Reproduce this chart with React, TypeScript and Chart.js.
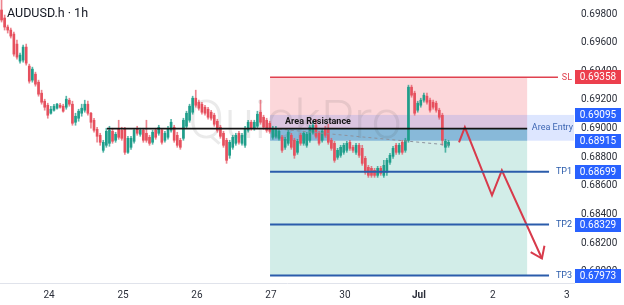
import React, { useEffect, useRef } from 'react';
import { Chart, registerables } from 'chart.js';

Chart.register(...registerables);

const TITLE = 'AUDUSD.h · 1h';
const WATERMARK = 'QuickPro';

// Hourly candles (index = hour slot)
const OPEN = [
  0.69828, 0.69772, 0.69709, 0.69688, 0.69660, 0.69590, 0.69471, 0.69478, 0.69569, 0.69436,
  0.69338, 0.69380, 0.69324, 0.69247, 0.69191, 0.69163, 0.69107, 0.69128, 0.69142, 0.69163,
  0.69156, 0.69149, 0.69198, 0.69170, 0.69044, 0.69072, 0.69107, 0.69128, 0.69170, 0.69107,
  0.69058, 0.68995, 0.68953, 0.68848, 0.68883, 0.68897, 0.68981, 0.68918, 0.68995, 0.68988,
  0.68995, 0.68834, 0.68869, 0.68911, 0.69002, 0.68960, 0.68988, 0.68967, 0.68939, 0.68904,
  0.68988, 0.68967, 0.68988, 0.68918, 0.68939, 0.68988, 0.69009, 0.68953, 0.68918, 0.68932,
  0.69016, 0.69058, 0.69114, 0.69212, 0.69184, 0.69170, 0.69149, 0.69135, 0.69114, 0.69093,
  0.69051, 0.69009, 0.68967, 0.68918, 0.68813, 0.68869, 0.68897, 0.68967, 0.68897, 0.68883,
  0.68988, 0.69044, 0.69002, 0.69016, 0.69114, 0.69079, 0.69058, 0.69037, 0.68939, 0.68946,
  0.68932, 0.68939, 0.68869, 0.68897, 0.68953, 0.68918, 0.68834, 0.68953, 0.68897, 0.68883,
  0.68918, 0.68974, 0.69023, 0.68967, 0.68918, 0.69002, 0.69002, 0.68918, 0.68897, 0.68799,
  0.68813, 0.68834, 0.68848, 0.68904, 0.68869, 0.68834, 0.68883, 0.68862, 0.68792, 0.68729,
  0.68722, 0.68708, 0.68673, 0.68722, 0.68673, 0.68694, 0.68764, 0.68806, 0.68883, 0.68834,
  0.68904, 0.68848, 0.68918, 0.69289, 0.69247, 0.69128, 0.69163, 0.69198, 0.69226, 0.69198,
  0.69184, 0.69177, 0.69128, 0.69093, 0.68869, 0.68883,
];
const HIGH = [
  0.69898, 0.69793, 0.69723, 0.69702, 0.69674, 0.69618, 0.69527, 0.69583, 0.69590, 0.69450,
  0.69429, 0.69394, 0.69338, 0.69268, 0.69205, 0.69177, 0.69156, 0.69170, 0.69177, 0.69177,
  0.69170, 0.69226, 0.69212, 0.69191, 0.69107, 0.69135, 0.69170, 0.69198, 0.69191, 0.69114,
  0.69072, 0.69009, 0.68967, 0.68918, 0.69002, 0.69016, 0.69002, 0.68974, 0.69058, 0.69009,
  0.69009, 0.68946, 0.68946, 0.69002, 0.69016, 0.69002, 0.69002, 0.69058, 0.68953, 0.68988,
  0.69002, 0.69023, 0.69002, 0.68981, 0.69016, 0.69065, 0.69023, 0.68974, 0.68932, 0.69072,
  0.69121, 0.69170, 0.69226, 0.69268, 0.69198, 0.69184, 0.69163, 0.69149, 0.69128, 0.69107,
  0.69065, 0.69023, 0.68981, 0.68932, 0.68918, 0.68953, 0.68967, 0.68981, 0.68967, 0.69016,
  0.69058, 0.69058, 0.69058, 0.69121, 0.69198, 0.69093, 0.69072, 0.69051, 0.69016, 0.69016,
  0.68995, 0.68953, 0.68939, 0.68988, 0.68967, 0.68932, 0.68925, 0.68967, 0.68981, 0.68974,
  0.69023, 0.69051, 0.69065, 0.68981, 0.68995, 0.69016, 0.69030, 0.68932, 0.68911, 0.68862,
  0.68883, 0.68897, 0.68911, 0.68918, 0.68883, 0.68897, 0.68897, 0.68883, 0.68806, 0.68743,
  0.68736, 0.68722, 0.68736, 0.68736, 0.68778, 0.68792, 0.68827, 0.68876, 0.68897, 0.68897,
  0.68918, 0.68932, 0.69303, 0.69303, 0.69261, 0.69191, 0.69212, 0.69247, 0.69247, 0.69212,
  0.69198, 0.69191, 0.69142, 0.69107, 0.68925, 0.68918,
];
const LOW = [
  0.69744, 0.69688, 0.69667, 0.69632, 0.69506, 0.69485, 0.69457, 0.69464, 0.69443, 0.69317,
  0.69324, 0.69296, 0.69226, 0.69170, 0.69128, 0.69072, 0.69100, 0.69121, 0.69135, 0.69142,
  0.69114, 0.69135, 0.69156, 0.69023, 0.69023, 0.69051, 0.69086, 0.69114, 0.69093, 0.69002,
  0.68974, 0.68904, 0.68883, 0.68834, 0.68869, 0.68876, 0.68897, 0.68904, 0.68925, 0.68918,
  0.68820, 0.68827, 0.68855, 0.68897, 0.68953, 0.68946, 0.68904, 0.68904, 0.68883, 0.68890,
  0.68925, 0.68953, 0.68890, 0.68904, 0.68925, 0.68974, 0.68904, 0.68869, 0.68855, 0.68918,
  0.69002, 0.69044, 0.69100, 0.69149, 0.69128, 0.69100, 0.69093, 0.69065, 0.69058, 0.69016,
  0.68974, 0.68932, 0.68869, 0.68757, 0.68792, 0.68855, 0.68883, 0.68890, 0.68883, 0.68869,
  0.68974, 0.68988, 0.68988, 0.69002, 0.69030, 0.68995, 0.68974, 0.68967, 0.68925, 0.68932,
  0.68918, 0.68834, 0.68855, 0.68883, 0.68855, 0.68792, 0.68820, 0.68883, 0.68883, 0.68869,
  0.68904, 0.68960, 0.68932, 0.68883, 0.68904, 0.68939, 0.68890, 0.68848, 0.68764, 0.68785,
  0.68799, 0.68820, 0.68834, 0.68848, 0.68834, 0.68820, 0.68799, 0.68743, 0.68680, 0.68659,
  0.68659, 0.68659, 0.68659, 0.68673, 0.68659, 0.68673, 0.68750, 0.68792, 0.68820, 0.68820,
  0.68820, 0.68834, 0.68904, 0.69219, 0.69093, 0.69114, 0.69149, 0.69184, 0.69170, 0.69114,
  0.69135, 0.69114, 0.69065, 0.68883, 0.68834, 0.68869,
];
const CLOSE = [
  0.69758, 0.69709, 0.69688, 0.69646, 0.69520, 0.69499, 0.69513, 0.69569, 0.69457, 0.69331,
  0.69415, 0.69310, 0.69240, 0.69184, 0.69149, 0.69093, 0.69135, 0.69156, 0.69170, 0.69149,
  0.69121, 0.69205, 0.69170, 0.69037, 0.69086, 0.69121, 0.69142, 0.69170, 0.69107, 0.69044,
  0.68988, 0.68946, 0.68904, 0.68904, 0.68981, 0.68988, 0.68911, 0.68960, 0.68939, 0.68932,
  0.68834, 0.68932, 0.68932, 0.68988, 0.68967, 0.68988, 0.68918, 0.68918, 0.68897, 0.68974,
  0.68939, 0.69009, 0.68904, 0.68967, 0.69002, 0.69044, 0.68918, 0.68883, 0.68869, 0.69058,
  0.69107, 0.69156, 0.69212, 0.69163, 0.69142, 0.69114, 0.69107, 0.69079, 0.69072, 0.69030,
  0.68988, 0.68946, 0.68883, 0.68778, 0.68904, 0.68939, 0.68953, 0.68904, 0.68953, 0.69002,
  0.69044, 0.69002, 0.69044, 0.69100, 0.69044, 0.69009, 0.68988, 0.68981, 0.69002, 0.69002,
  0.68981, 0.68848, 0.68925, 0.68974, 0.68869, 0.68813, 0.68911, 0.68897, 0.68967, 0.68960,
  0.69009, 0.69023, 0.68946, 0.68897, 0.68981, 0.68953, 0.68904, 0.68862, 0.68778, 0.68848,
  0.68869, 0.68883, 0.68897, 0.68862, 0.68848, 0.68883, 0.68813, 0.68757, 0.68694, 0.68673,
  0.68673, 0.68673, 0.68722, 0.68687, 0.68743, 0.68778, 0.68813, 0.68862, 0.68834, 0.68883,
  0.68834, 0.68918, 0.69289, 0.69233, 0.69107, 0.69177, 0.69198, 0.69233, 0.69184, 0.69128,
  0.69149, 0.69128, 0.69079, 0.68918, 0.68911, 0.68904,
];

const DAY_TICKS = [15.4, 39.4, 63.4, 87.4, 111.4, 135.4, 159.4, 183.4];
const DAY_LABELS = ['24', '25', '26', '27', '30', 'Jul', '2', '3'];
const PRICE_TICKS = [0.680, 0.682, 0.684, 0.686, 0.688, 0.690, 0.692, 0.694, 0.696, 0.698];

const X_MIN = -0.5;
const X_MAX = 185.7;
const Y_MIN = 0.67921;
const Y_MAX = 0.69898;

// Trade setup
const SL = 0.69358;
const ENTRY = 0.69;
const AREA_TOP = 0.69095;
const AREA_BOTTOM = 0.68915;
const TP_VALUES = [0.68699, 0.68329, 0.67973];
const TP_NAMES = ['TP1', 'TP2', 'TP3'];
const POS_START = 87.1;
const POS_END = 170.5;
const RESIST_START = 34.2;
const SL_END = 180.5;
const TP_END = 177.6;

// Projected path
const PATH_X = [148.4, 150.3, 159.1, 162.3, 175.3];
const PATH_Y = [0.68904, 0.69009, 0.68533, 0.68708, 0.68092];
// Entry-to-price dashed line
const DASH_X = [88, 145];
const DASH_Y = [0.69, 0.68885];

const UP = '#1f9e8b';
const DOWN = '#e6505e';
const UP_WICK = 'rgba(31,158,139,0.75)';
const DOWN_WICK = 'rgba(230,80,94,0.7)';

const overlayPlugin = {
  id: 'overlay',
  beforeDatasetsDraw(chart: any) {
    const { ctx, chartArea: ca, scales } = chart;
    const x = scales.x, y = scales.y;
    ctx.save();
    ctx.beginPath();
    ctx.rect(ca.left, ca.top, ca.right - ca.left, ca.bottom - ca.top);
    ctx.clip();
    const xs = x.getPixelForValue(POS_START);
    const xe = x.getPixelForValue(POS_END);
    const yE = y.getPixelForValue(ENTRY);
    const ySL = y.getPixelForValue(SL);
    const yT3 = y.getPixelForValue(TP_VALUES[2]);
    const yAT = y.getPixelForValue(AREA_TOP);
    const yAB = y.getPixelForValue(AREA_BOTTOM);
    ctx.fillStyle = 'rgba(8,153,129,0.18)';
    ctx.fillRect(xs, yE, xe - xs, yT3 - yE);
    ctx.fillStyle = 'rgba(242,54,69,0.2)';
    ctx.fillRect(xs, ySL, xe - xs, yE - ySL);
    ctx.fillStyle = 'rgba(41,98,255,0.16)';
    ctx.fillRect(xs, yAT, ca.right - xs, yAB - yAT);
    ctx.fillStyle = 'rgba(30,115,175,0.3)';
    ctx.fillRect(xs, yE, xe - xs, yAB - yE);
    // watermark
    ctx.font = '300 54px Roboto';
    ctx.fillStyle = 'rgba(60,60,60,0.11)';
    ctx.textAlign = 'left';
    ctx.textBaseline = 'alphabetic';
    ctx.fillText(WATERMARK, 188, 138);
    ctx.restore();
  },
  afterDatasetsDraw(chart: any) {
    const { ctx, chartArea: ca, scales } = chart;
    const x = scales.x, y = scales.y;
    ctx.save();
    const xs = x.getPixelForValue(POS_START);
    const xe = x.getPixelForValue(POS_END);
    const line = (x1: number, x2: number, yy: number, color: string, w: number) => {
      ctx.beginPath();
      ctx.strokeStyle = color;
      ctx.lineWidth = w;
      ctx.moveTo(x1, yy);
      ctx.lineTo(x2, yy);
      ctx.stroke();
    };
    // resistance line
    const yE = y.getPixelForValue(ENTRY);
    line(x.getPixelForValue(RESIST_START), xe, yE, '#141414', 1.8);
    ctx.font = 'bold 9px Roboto';
    ctx.fillStyle = '#141414';
    ctx.textAlign = 'left';
    ctx.textBaseline = 'alphabetic';
    ctx.fillText('Area Resistance', xs + 15, yE - 5);

    // arrowhead on projected path
    const n = PATH_X.length;
    const px1 = x.getPixelForValue(PATH_X[n - 2]);
    const py1 = y.getPixelForValue(PATH_Y[n - 2]);
    const px2 = x.getPixelForValue(PATH_X[n - 1]);
    const py2 = y.getPixelForValue(PATH_Y[n - 1]);
    const ang = Math.atan2(py2 - py1, px2 - px1);
    const L = 13;
    ctx.beginPath();
    ctx.strokeStyle = '#d83a4b';
    ctx.lineWidth = 2;
    ctx.moveTo(px2 - L * Math.cos(ang - 0.62), py2 - L * Math.sin(ang - 0.62));
    ctx.lineTo(px2, py2);
    ctx.lineTo(px2 - L * Math.cos(ang + 0.62), py2 - L * Math.sin(ang + 0.62));
    ctx.stroke();

    // SL line
    const ySL = y.getPixelForValue(SL);
    line(xs, x.getPixelForValue(SL_END), ySL, '#e0414f', 1.5);
    // TP lines
    const tpYs = TP_VALUES.map((v) => y.getPixelForValue(v));
    tpYs.forEach((yy: number) => line(xs, x.getPixelForValue(TP_END), yy, '#2b5cab', 2));

    // annotation texts
    ctx.font = '9px Roboto';
    ctx.textAlign = 'right';
    ctx.textBaseline = 'middle';
    ctx.fillStyle = '#e0414f';
    ctx.fillText('SL', ca.right - 2, ySL);
    ctx.fillStyle = '#2b5cab';
    tpYs.forEach((yy: number, i: number) => ctx.fillText(TP_NAMES[i], ca.right - 2, yy));
    ctx.fillStyle = '#3d66b3';
    ctx.fillText('Area Entry', ca.right - 1, y.getPixelForValue((AREA_TOP + AREA_BOTTOM) / 2));

    // price badges
    const badge = (val: number, bg: string) => {
      const yy = y.getPixelForValue(val);
      const h = 14;
      const left = ca.right + 1;
      const w = 46;
      ctx.fillStyle = bg;
      ctx.fillRect(left, Math.round(yy - h / 2), w, h);
      ctx.fillStyle = '#ffffff';
      ctx.font = '10px Roboto';
      ctx.textAlign = 'center';
      ctx.textBaseline = 'middle';
      ctx.fillText(val.toFixed(5), left + w / 2, yy + 0.5);
    };
    badge(SL, '#ec3f4d');
    badge(AREA_TOP, '#2962ff');
    badge(AREA_BOTTOM, '#2962ff');
    TP_VALUES.forEach((v) => badge(v, '#2962ff'));

    // title
    ctx.font = '12.5px Roboto';
    ctx.fillStyle = '#131722';
    ctx.textAlign = 'left';
    ctx.textBaseline = 'alphabetic';
    ctx.fillText(TITLE, 7, 17);
    ctx.restore();
  },
};

export default function App() {
  const ref = useRef<HTMLCanvasElement | null>(null);
  useEffect(() => {
    if (!ref.current) return;
    const idx = OPEN.map((_, i) => i);
    const colors = OPEN.map((o, i) => (CLOSE[i] >= o ? UP : DOWN));
    const wickColors = OPEN.map((o, i) => (CLOSE[i] >= o ? UP_WICK : DOWN_WICK));
    const chart = new Chart(ref.current, {
      type: 'bar',
      data: {
        datasets: [
          {
            type: 'line',
            data: PATH_X.map((v, i) => ({ x: v, y: PATH_Y[i] })),
            borderColor: '#d83a4b',
            borderWidth: 2,
            pointRadius: 0,
            order: 0,
          } as any,
          {
            type: 'line',
            data: DASH_X.map((v, i) => ({ x: v, y: DASH_Y[i] })),
            borderColor: '#8c919c',
            borderWidth: 1,
            borderDash: [3, 3],
            pointRadius: 0,
            order: 1,
          } as any,
          {
            type: 'bar',
            data: idx.map((i) => ({ x: i, y: [OPEN[i], CLOSE[i]] })),
            backgroundColor: colors,
            borderWidth: 0,
            barThickness: 2,
            minBarLength: 1,
            grouped: false,
            order: 2,
          } as any,
          {
            type: 'bar',
            data: idx.map((i) => ({ x: i, y: [LOW[i], HIGH[i]] })),
            backgroundColor: wickColors,
            borderWidth: 0,
            barThickness: 1,
            grouped: false,
            order: 3,
          } as any,
        ],
      },
      options: {
        animation: false,
        responsive: true,
        maintainAspectRatio: false,
        events: [],
        layout: { padding: 0 },
        plugins: { legend: { display: false }, tooltip: { enabled: false } },
        scales: {
          x: {
            type: 'linear',
            min: X_MIN,
            max: X_MAX,
            offset: false,
            grid: { display: false, drawTicks: false },
            border: { display: true, color: '#e0e3eb', width: 1 },
            afterBuildTicks: (s: any) => {
              s.ticks = DAY_TICKS.map((v) => ({ value: v }));
            },
            afterFit: (s: any) => {
              s.height = 22;
              s.paddingLeft = 0;
              s.paddingRight = 0;
            },
            ticks: {
              autoSkip: false,
              maxRotation: 0,
              padding: 6,
              color: '#2a2e39',
              font: (c: any) => ({ family: 'Roboto', size: 10, weight: c.index === 5 ? 'bold' : 'normal' }),
              callback: (_v: any, i: number) => DAY_LABELS[i],
            },
          },
          y: {
            type: 'linear',
            position: 'right',
            min: Y_MIN,
            max: Y_MAX,
            grid: { display: false, drawTicks: false },
            border: { display: false },
            afterBuildTicks: (s: any) => {
              s.ticks = PRICE_TICKS.map((v) => ({ value: v }));
            },
            afterFit: (s: any) => {
              s.width = 50;
              s.paddingTop = 0;
              s.paddingBottom = 0;
            },
            ticks: {
              padding: 7,
              color: '#2a2e39',
              font: { family: 'Roboto', size: 10 },
              callback: (v: any) => Number(v).toFixed(5),
            },
          },
        },
      } as any,
      plugins: [overlayPlugin],
    });
    return () => chart.destroy();
  }, []);
  return (
    <div style={{ position: 'fixed', left: 0, top: 0, width: 624, height: 305, background: '#ffffff' }}>
      <canvas ref={ref} />
    </div>
  );
}
